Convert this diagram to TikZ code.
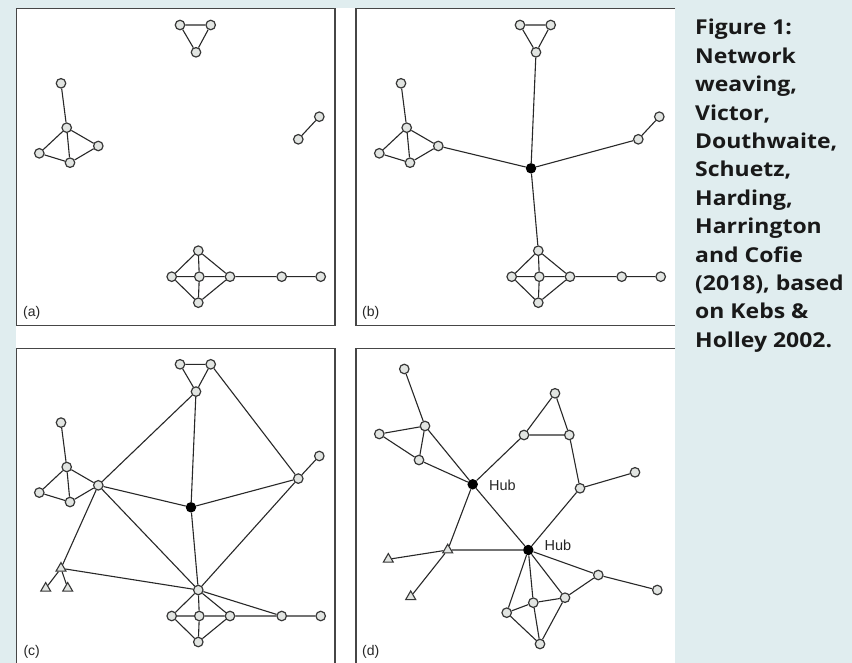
\documentclass[tikz,border=0pt]{standalone}
\usepackage{fontspec}
\setmainfont{Liberation Sans}
\newfontfamily\capfont[FakeStretch=1.12]{Open Sans}
\usetikzlibrary{shapes.geometric}
\definecolor{bgc}{RGB}{224,237,239}
\definecolor{ndf}{RGB}{226,229,226}
\definecolor{ndc}{RGB}{55,55,55}
\definecolor{edc}{RGB}{40,40,40}
\definecolor{frc}{RGB}{70,70,70}
\definecolor{capc}{RGB}{25,25,25}
\tikzset{
 nd/.style={circle,draw=ndc,fill=ndf,line width=1.2pt,minimum size=9.5pt,inner sep=0pt},
 hubn/.style={circle,fill=black,minimum size=10.5pt,inner sep=0pt},
 trin/.style={regular polygon,regular polygon sides=3,draw=ndc,fill=ndf,line width=1.1pt,minimum size=11.5pt,inner sep=0pt},
 ed/.style={draw=edc,line width=1.1pt},
 frm/.style={draw=frc,line width=1.4pt},
 plab/.style={font=\fontsize{14}{16}\selectfont,text=black!85,inner sep=0pt},
 hubl/.style={font=\fontsize{14.5}{16}\selectfont,text=black!85,inner sep=0pt},
 capl/.style={font=\capfont\bfseries\fontsize{20.5}{24}\selectfont,text=capc,anchor=base west,inner sep=0pt},
}
\newcommand\mktri[1]{%
 \node[nd] (#1t1) at (180,25) {};
 \node[nd] (#1t2) at (210.7,25) {};
 \node[nd] (#1t3) at (196,52.3) {};
 \draw[ed] (#1t1)--(#1t2) (#1t1)--(#1t3) (#1t2)--(#1t3);}
\newcommand\mkleft[1]{%
 \node[nd] (#1lp) at (61,83.3) {};
 \node[nd] (#1la) at (66.7,127.7) {};
 \node[nd] (#1ll) at (39.3,153.3) {};
 \node[nd] (#1lb) at (70,162.7) {};
 \node[nd] (#1lr) at (98.3,146) {};
 \draw[ed] (#1lp)--(#1la) (#1la)--(#1ll) (#1la)--(#1lb) (#1la)--(#1lr) (#1ll)--(#1lb) (#1lb)--(#1lr);}
\newcommand\mkpair[1]{%
 \node[nd] (#1pu) at (319.3,116.7) {};
 \node[nd] (#1pl) at (298.3,139.3) {};
 \draw[ed] (#1pu)--(#1pl);}
\newcommand\mkbot[1]{%
 \node[nd] (#1bt) at (198.3,250.7) {};
 \node[nd] (#1bl) at (171.7,276.7) {};
 \node[nd] (#1bc) at (199.3,276.7) {};
 \node[nd] (#1br) at (230,276.7) {};
 \node[nd] (#1bb) at (198.3,302.7) {};
 \node[nd] (#1ca) at (281.7,276.7) {};
 \node[nd] (#1cb) at (320.7,276.7) {};
 \draw[ed] (#1bt)--(#1bl) (#1bt)--(#1br) (#1bt)--(#1bc) (#1bl)--(#1bc) (#1bc)--(#1br) (#1bl)--(#1bb) (#1br)--(#1bb) (#1bc)--(#1bb) (#1br)--(#1ca) (#1ca)--(#1cb);}
\begin{document}
\begin{tikzpicture}[x=1pt,y=-1pt]
\fill[bgc] (0,0) rectangle (852,663);
\useasboundingbox (0,0) rectangle (852,663);
\fill[white] (16,8) rectangle (675,663);
% frames
\draw[frm] (16.5,8.5) rectangle (335,325.5);
\draw[frm] (675,8.5) -- (356,8.5) -- (356,325.5) -- (675,325.5);
\draw[frm] (16.5,663) -- (16.5,348.3) -- (335,348.3) -- (335,663);
\draw[frm] (675,348.3) -- (356,348.3) -- (356,663);
% panel a
\mktri{a}\mkleft{a}\mkpair{a}\mkbot{a}
\node[plab] (la) at (31.7,313.3) {(a)};
% panel b
\begin{scope}[shift={(340,0)}]
\mktri{b}\mkleft{b}\mkpair{b}\mkbot{b}
\node[hubn] (bh) at (191,168.3) {};
\draw[ed] (bh)--(bt3) (bh)--(blr) (bh)--(bpl) (bh)--(bbt);
\node[plab] (lb) at (30.7,313.3) {(b)};
\end{scope}
% panel c
\begin{scope}[shift={(0,339.3)}]
\mktri{c}\mkleft{c}\mkpair{c}\mkbot{c}
\node[hubn] (ch) at (191,168) {};
\node[trin] (cx) at (61,229) {};
\node[trin] (cy) at (45.7,249) {};
\node[trin] (cz) at (67.7,249) {};
\draw[ed] (ct2)--(cpl) (ct3)--(ch) (ct3)--(clr) (clr)--(ch) (clr)--(cbt) (clr)--(cx)
 (ch)--(cpl) (ch)--(cbt) (cpl)--(cbt) (cx)--(cbt) (cx)--(cy) (cx)--(cz) (cbt)--(cca);
\node[plab] (lc) at (31.7,312.4) {(c)};
\end{scope}
% panel d
\node[nd] (dp1) at (404.3,369) {};
\node[nd] (dp2) at (425,426) {};
\node[nd] (dp3) at (379.3,434) {};
\node[nd] (dp4) at (419,460) {};
\node[hubn] (dh1) at (472.7,484.3) {};
\node[nd] (dt1) at (555,393.3) {};
\node[nd] (dt2) at (524,435) {};
\node[nd] (dt3) at (569.3,435) {};
\node[nd] (dq1) at (635,472.3) {};
\node[nd] (dq2) at (580,488.3) {};
\node[hubn] (dh2) at (528.3,550) {};
\node[trin] (dx1) at (447.7,550) {};
\node[trin] (dx2) at (388.3,559.3) {};
\node[trin] (dx3) at (410.7,596.7) {};
\node[nd] (dr1) at (598.3,575) {};
\node[nd] (dr2) at (657.3,590) {};
\node[nd] (ds1) at (565,597.7) {};
\node[nd] (ds2) at (533.3,602.7) {};
\node[nd] (ds3) at (506.7,612.7) {};
\node[nd] (ds4) at (540,644) {};
\draw[ed] (dp1)--(dp2) (dp2)--(dp3) (dp3)--(dp4) (dp2)--(dp4) (dp2)--(dh1) (dp4)--(dh1)
 (dh1)--(dt2) (dt2)--(dt1) (dt1)--(dt3) (dt2)--(dt3) (dt3)--(dq2) (dq2)--(dq1) (dq2)--(dh2)
 (dh1)--(dh2) (dh1)--(dx1) (dx1)--(dx2) (dx1)--(dx3) (dx1)--(dh2)
 (dh2)--(dr1) (dr1)--(dr2) (dr1)--(ds1)
 (dh2)--(ds1) (dh2)--(ds2) (dh2)--(ds3) (ds3)--(ds2) (ds2)--(ds1) (ds3)--(ds4) (ds2)--(ds4) (ds1)--(ds4);
\node[hubl] (hl1) at (502.5,485) {Hub};
\node[hubl] (hl2) at (558,545) {Hub};
\node[plab] (ld) at (370.7,651.7) {(d)};
% caption
\node[capl] (k1) at (695,35) {Figure 1:};
\node[capl] (k2) at (695,63.4) {Network};
\node[capl] (k3) at (695,91.8) {weaving,};
\node[capl] (k4) at (695,120.2) {Victor,};
\node[capl] (k5) at (695,148.6) {Douthwaite,};
\node[capl] (k6) at (695,177) {Schuetz,};
\node[capl] (k7) at (695,205.4) {Harding,};
\node[capl] (k8) at (695,233.8) {Harrington};
\node[capl] (k9) at (695,262.2) {and Cofie};
\node[capl] (k10) at (695,290.6) {(2018), based};
\node[capl] (k11) at (695,319) {on Kebs \&};
\node[capl] (k12) at (695,347.4) {Holley 2002.};
\end{tikzpicture}
\end{document}
